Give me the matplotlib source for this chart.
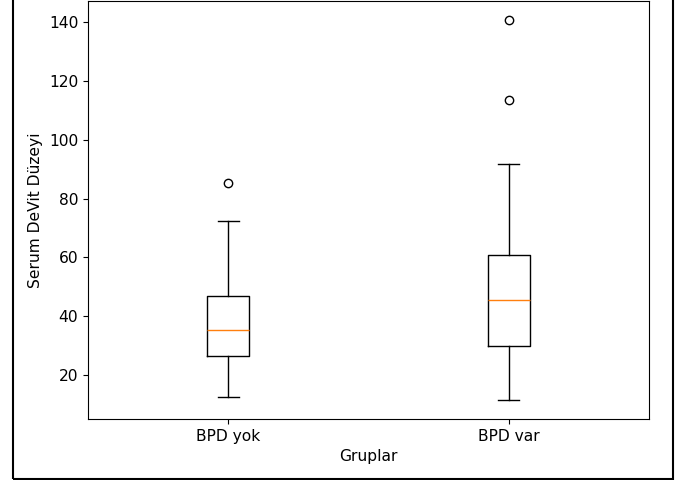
import matplotlib
matplotlib.use("Agg")
import matplotlib.pyplot as plt
from matplotlib.patches import Rectangle

groups = ["BPD yok", "BPD var"]
whislo = [12.5, 11.5]
q1 = [26.5, 29.9]
med = [35.3, 45.5]
q3 = [46.8, 60.9]
whishi = [72.3, 91.7]
fliers = [[85.3], [113.5, 140.7]]

stats = []
for i, g in enumerate(groups):
    stats.append({
        "label": g,
        "whislo": whislo[i],
        "q1": q1[i],
        "med": med[i],
        "q3": q3[i],
        "whishi": whishi[i],
        "fliers": fliers[i],
    })

plt.rcParams["font.size"] = 11.2
plt.rcParams["lines.linewidth"] = 1.15

fig = plt.figure(figsize=(6.8, 4.8), dpi=100)
ax = fig.add_axes([88 / 680, 1 - 419 / 480, (649 - 88) / 680, (419 - 1) / 480])
ax.bxp(stats, widths=0.15)
ax.set_xlim(0.5, 2.5)
ax.set_ylim(5.0, 147.2)
ax.set_yticks([20, 40, 60, 80, 100, 120, 140])
ax.set_xlabel("Gruplar")
ax.set_ylabel("Serum DeVit Düzeyi")

# outer frame of the figure (screenshot border)
fig.patches.append(Rectangle((13 / 680, 1 - 478.5 / 480), (673 - 13) / 680, 1.2,
                             transform=fig.transFigure, fill=False,
                             edgecolor="black", linewidth=1.5, clip_on=False))

fig.savefig("out.png", dpi=100)
